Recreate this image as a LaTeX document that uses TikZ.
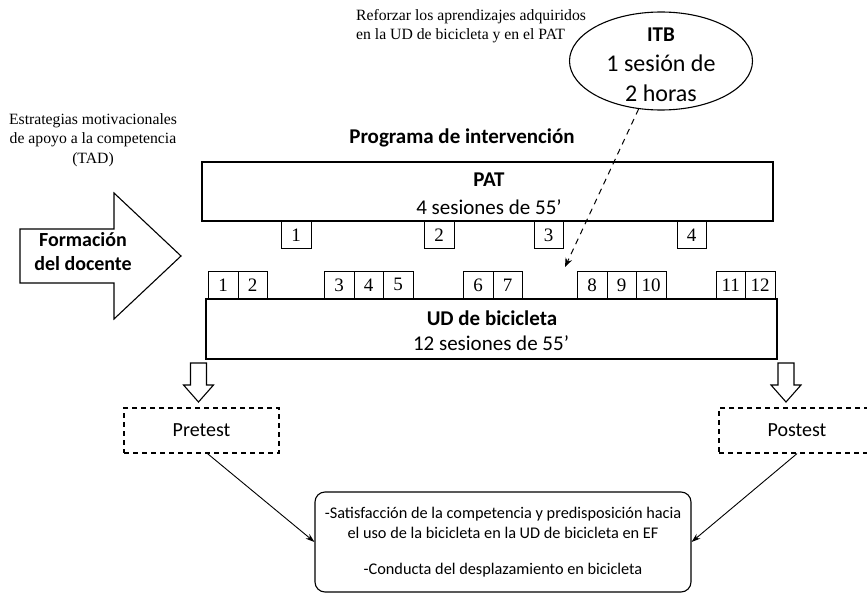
\documentclass[tikz,border=0pt]{standalone}
\usepackage{fontspec}
\newfontfamily\calfont{Carlito}
\newfontfamily\serfont{Liberation Serif}
\usetikzlibrary{arrows.meta,shapes.geometric}
\tikzset{
  serif/.style={inner sep=0pt,font=\serfont\fontsize{15.7}{19.5}\selectfont},
  sess/.style={draw,line width=0.8pt,minimum width=29.5pt,minimum height=27.5pt,inner sep=0pt,
     anchor=south west,font=\serfont\fontsize{19}{19}\selectfont},
  psess/.style={sess,anchor=north west,minimum height=27pt},
  bigbox/.style={draw,line width=2.6pt,inner sep=0pt},
  boldlabel/.style={inner sep=0pt,font=\calfont\bfseries\fontsize{21}{25}\selectfont},
  plainlabel/.style={inner sep=0pt,font=\calfont\fontsize{21}{25}\selectfont},
  itblabel/.style={inner sep=0pt,font=\calfont\fontsize{24}{29}\selectfont},
  testbox/.style={draw,dashed,dash pattern=on 5pt off 4pt,line width=1.2pt,minimum width=156pt,
     minimum height=45pt,inner sep=0pt,font=\calfont\fontsize{20}{24}\selectfont},
  blockarrow/.style={draw,line width=1.1pt,fill=white},
  conn/.style={draw,line width=0.9pt,-{Stealth[length=9pt,width=6pt]}},
}
\begin{document}
\begin{tikzpicture}[x=1pt,y=-1pt]
\useasboundingbox (0,0) rectangle (867,594);

% top annotation
\node[serif,align=left,anchor=north west] (reforzar) at (356,9) {Reforzar los aprendizajes adquiridos\\en la UD de bicicleta y en el PAT};
\node[serif,align=center] (estrat) at (93,140) {Estrategias motivacionales\\de apoyo a la competencia\\(TAD)};

% ITB ellipse
\node[ellipse,draw,line width=1.1pt,minimum width=183pt,minimum height=98pt,inner sep=0pt] (itb) at (661,61) {};
\node[boldlabel] (itbtitle) at (661,34.5) {ITB};
\node[itblabel] (itbl1) at (661,63) {1 sesión de};
\node[itblabel] (itbl2) at (661,93) {2 horas};

% title
\node[boldlabel] (title) at (462,138) {Programa de intervención};

% PAT box
\node[bigbox,minimum width=571pt,minimum height=59pt] (pat) at (487.5,191.5) {};
\node[boldlabel] (pattitle) at (489,180) {PAT};
\node[plainlabel] (patsub) at (489,207) {4 sesiones de 55’};

% PAT sessions
\node[psess] (p1) at (281,221) {1};
\node[psess] (p2) at (424,221) {2};
\node[psess] (p3) at (533.5,221) {3};
\node[psess] (p4) at (676.5,221) {4};

% UD box
\node[bigbox,minimum width=571pt,minimum height=60pt] (ud) at (491.5,329) {};
\node[boldlabel] (udtitle) at (492,318) {UD de bicicleta};
\node[plainlabel] (udsub) at (491,343) {12 sesiones de 55’};

% UD sessions
\node[sess] (u1) at (208,299) {1};
\node[sess] (u2) at (237.5,299) {2};
\node[sess] (u3) at (324,299) {3};
\node[sess] (u4) at (353.5,299) {4};
\node[sess] (u5) at (383,299) {5};
\node[sess] (u6) at (463,299) {6};
\node[sess] (u7) at (492.5,299) {7};
\node[sess] (u8) at (577,299) {8};
\node[sess] (u9) at (606.5,299) {9};
\node[sess] (u10) at (636,299) {10};
\node[sess] (u11) at (715.5,299) {11};
\node[sess] (u12) at (745,299) {12};

% dashed arrow from ITB
\coordinate (itbend) at (565,267);
\draw[dashed,dash pattern=on 6pt off 5pt,line width=1pt,-{Stealth[length=9pt,width=7pt]}] (itb) -- (itbend);

% Formacion del docente arrow
\draw[line width=1.1pt] (20,229) -- (114,229) -- (114,193) -- (181,256) -- (114,319) -- (114,283) -- (20,283) -- cycle;
\node[align=center,inner sep=0pt,font=\calfont\bfseries\fontsize{20}{24}\selectfont] (form) at (83,252) {Formación\\del docente};

% down block arrows
\coordinate (da1) at (198.5,363);
\coordinate (da2) at (786,363);
\foreach \c in {da1,da2}{
  \draw[blockarrow] ([xshift=-8pt]\c) -- ([xshift=8pt]\c) -- ([xshift=8pt,yshift=-22pt]\c)
    -- ([xshift=15pt,yshift=-22pt]\c) -- ([yshift=-39pt]\c) -- ([xshift=-15pt,yshift=-22pt]\c)
    -- ([xshift=-8pt,yshift=-22pt]\c) -- cycle;
}

% test boxes
\node[testbox,minimum width=155pt] (pre) at (201.5,430.5) {Pretest};
\node[testbox] (post) at (797,430.5) {Postest};

% outcome box
\node[draw,line width=1.1pt,rounded corners=10pt,minimum width=376pt,minimum height=100pt,
      inner sep=0pt,align=center,font=\calfont\fontsize{16.3}{20}\selectfont] (out) at (503,542)
      {-Satisfacción de la competencia y predisposición hacia\\el uso de la bicicleta en la UD de bicicleta en EF\\[16pt]-Conducta del desplazamiento en bicicleta};

\draw[conn] ([xshift=6pt]pre.south) -- (out.west);
\draw[conn] (post.south) -- (out.east);
\end{tikzpicture}
\end{document}
